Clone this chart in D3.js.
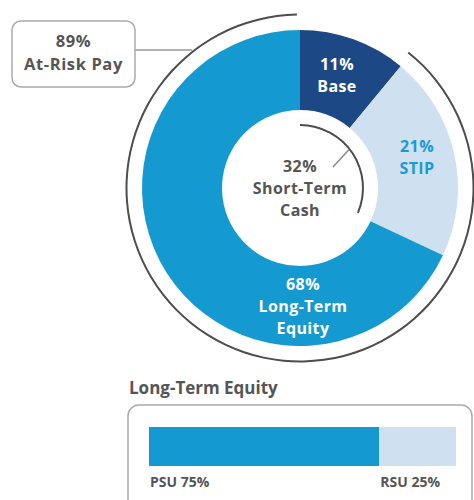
<!DOCTYPE html>
<html><head><meta charset="utf-8">
<script src="https://cdn.jsdelivr.net/npm/d3@7"></script>
<style>body{margin:0;background:#fff;}text{font-family:"Open Sans",sans-serif;font-weight:700;}</style>
</head><body>
<svg id="c" width="474" height="500"></svg>
<script>
const slices = ["Base","STIP","Long-Term Equity"];
const sliceValues = [11,21,68];
const slicePct = ["11%","21%","68%"];
const sliceText = [["Base"],["STIP"],["Long-Term","Equity"]];
const atRiskPct = 89;
const shortTermPct = 32;
const barCats = ["PSU","RSU"];
const barValues = [75,25];

const colors = ["#1d4886","#cfe1f1","#1499d1"];
const labelColors = ["#ffffff","#1a9ad6","#ffffff"];
const svg = d3.select("#c");
const cx=300, cy=188, rOut=158, rIn=78;
const fs="16px", ls="0.4px", lh=22;
const g = svg.append("g").attr("transform",`translate(${cx},${cy})`);
const pie = d3.pie().sort(null).value(d=>d)(sliceValues);
const arc = d3.arc().innerRadius(rIn).outerRadius(rOut);
g.selectAll("path.s").data(pie).join("path").attr("class","s")
 .attr("d",arc).attr("fill",(d,i)=>colors[i]);

// labels (first baseline offsets relative to centre)
const labelPos = [[37,-118],[117,-36],[3,102]];
pie.forEach((d,i)=>{
  const lines=[slicePct[i]].concat(sliceText[i]);
  const t=g.append("text").attr("text-anchor","middle").attr("fill",labelColors[i])
    .style("font-size",fs).style("letter-spacing",ls);
  lines.forEach((l,j)=>t.append("tspan").attr("x",labelPos[i][0]).attr("y",labelPos[i][1]+j*lh).text(l));
});

// outer at-risk arc
const deg=Math.PI/180;
const aScale=d3.scaleLinear().domain([0,100]).range([0,2*Math.PI]);
g.append("path").attr("d",d3.arc().innerRadius(172.5).outerRadius(174.5)
  .startAngle(aScale(100-atRiskPct)-1*deg).endAngle(aScale(100)-1*deg)()).attr("fill","#4d4d4d");
// inner short-term arc
g.append("path").attr("d",d3.arc().innerRadius(62).outerRadius(64)
  .startAngle(0).endAngle(aScale(shortTermPct)-2*deg)()).attr("fill","#4d4d4d");
// leader from inner arc
const la=52*deg;
g.append("line").attr("x1",62*Math.sin(la)).attr("y1",-62*Math.cos(la))
 .attr("x2",33).attr("y2",-21).attr("stroke","#8a8a8a").attr("stroke-width",1.5);
const ct=g.append("text").attr("text-anchor","middle").attr("fill","#555")
  .style("font-size",fs).style("letter-spacing",ls);
[shortTermPct+"%","Short-Term","Cash"].forEach((l,j)=>ct.append("tspan").attr("x",0).attr("y",-16+j*lh).text(l));

// at-risk box
svg.append("line").attr("x1",135).attr("y1",50).attr("x2",192).attr("y2",50).attr("stroke","#999").attr("stroke-width",1.5);
svg.append("rect").attr("x",12).attr("y",21).attr("width",123).attr("height",66).attr("rx",9)
 .attr("fill","#fff").attr("stroke","#aaa").attr("stroke-width",1.5);
const bt=svg.append("text").attr("text-anchor","middle").attr("fill","#555")
  .style("font-size","16.5px").style("letter-spacing","0.6px");
[atRiskPct+"%","At-Risk Pay"].forEach((l,j)=>bt.append("tspan").attr("x",73.5).attr("y",47+j*22.5).text(l));

// bar section
svg.append("text").attr("x",129).attr("y",394).attr("fill","#555").style("font-size","17px").text("Long-Term Equity");
svg.append("rect").attr("x",128).attr("y",405).attr("width",344).attr("height",110).attr("rx",11)
 .attr("fill","#fff").attr("stroke","#aaa").attr("stroke-width",1.5);
const x=d3.scaleLinear().domain([0,100]).range([149,456]);
const stack=d3.cumsum(barValues);
const barColors=["#1499d1","#cfe1f1"];
svg.selectAll("rect.b").data(barValues).join("rect").attr("class","b")
 .attr("x",(d,i)=>x(stack[i]-d)).attr("y",427).attr("width",d=>x(d)-x(0)).attr("height",39)
 .attr("fill",(d,i)=>barColors[i]);
svg.selectAll("text.bl").data(barValues).join("text").attr("class","bl")
 .attr("x",(d,i)=>x(stack[i]-d)+1).attr("y",487).attr("fill","#555").style("font-size","14px")
 .text((d,i)=>barCats[i]+" "+d+"%");
</script></body></html>
